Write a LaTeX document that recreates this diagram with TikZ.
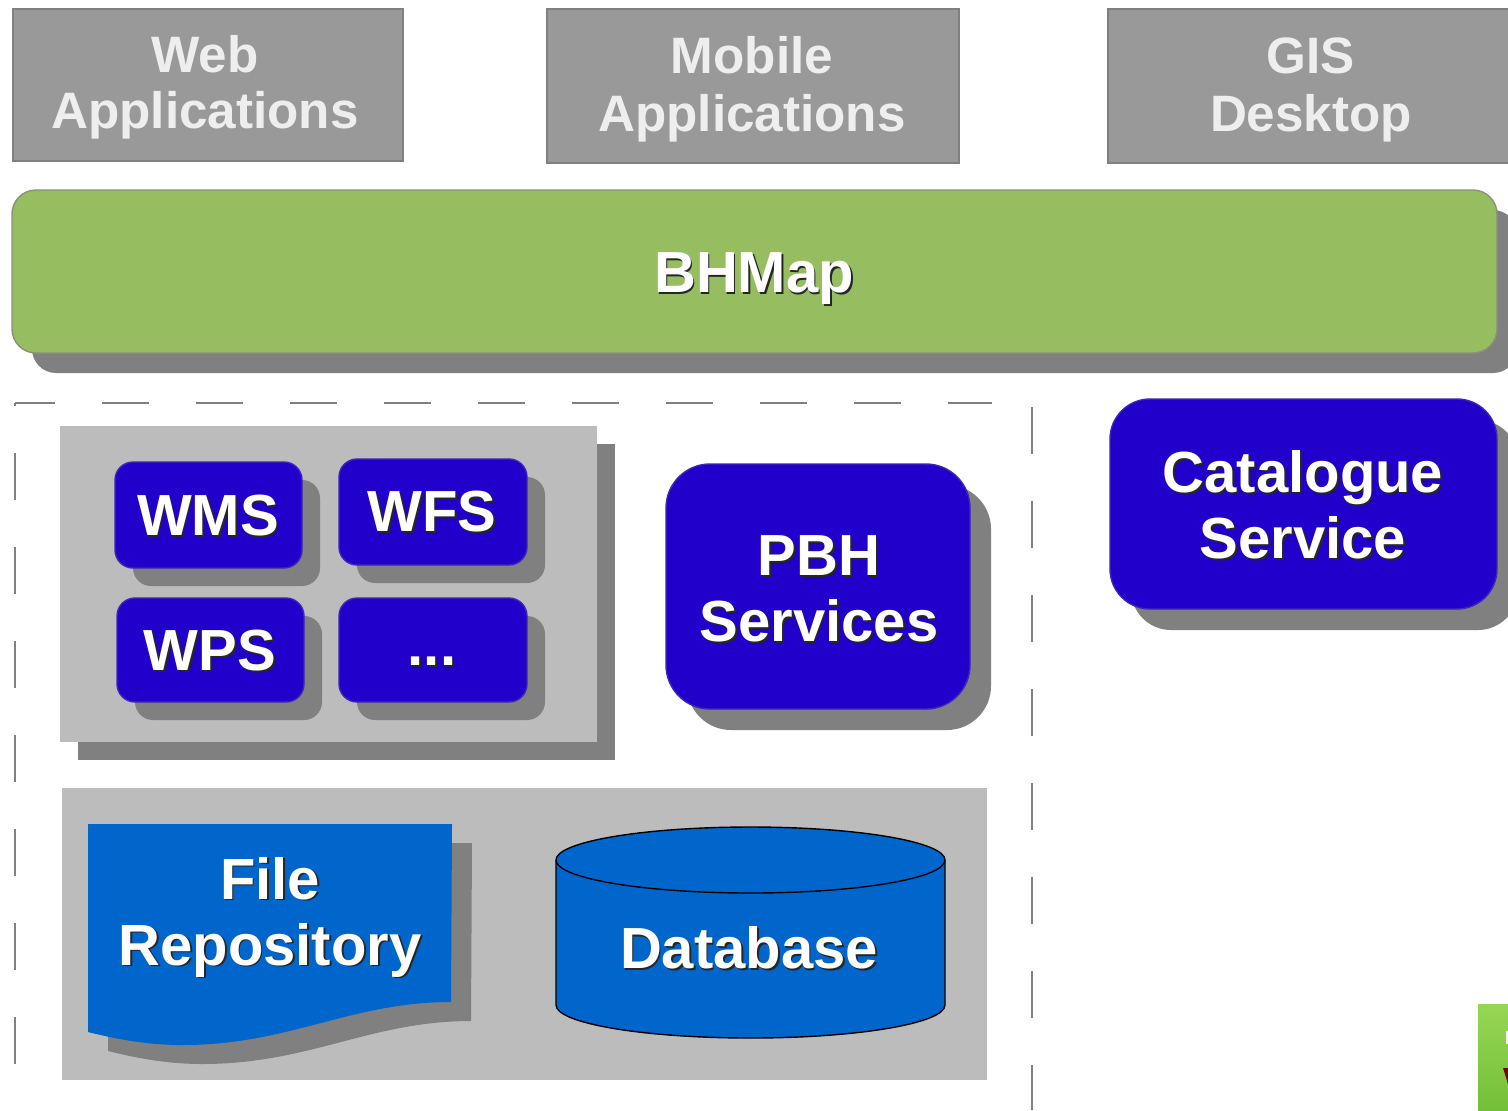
\documentclass[tikz,border=0pt]{standalone}
\usepackage{fontspec}
\setmainfont{Liberation Sans}
\definecolor{boxgray}{HTML}{999999}
\definecolor{edgegray}{HTML}{808080}
\definecolor{shadowgray}{HTML}{808080}
\definecolor{panelgray}{HTML}{BCBCBC}
\definecolor{barGreen}{HTML}{97BD61}
\definecolor{deepblue}{HTML}{2200CC}
\definecolor{midblue}{HTML}{0066CC}
\definecolor{lighttext}{HTML}{EEEEEE}
\definecolor{cornerlight}{HTML}{96D654}
\definecolor{cornerdark}{HTML}{74C038}
\tikzset{
  basebox/.style={shape=rectangle,inner sep=0pt,outer sep=0pt},
  topbox/.style={basebox,fill=boxgray,draw=edgegray,line width=1.3pt},
  greenbox/.style={basebox,fill=barGreen,draw=edgegray!70!barGreen,line width=0.7pt},
  bluebox/.style={basebox,fill=deepblue,draw=deepblue!70!gray,line width=0.7pt},
  panelbox/.style={basebox,fill=panelgray},
  shadowbox/.style={basebox,fill=shadowgray},
  toplabel/.style={text=lighttext,font=\bfseries\fontsize{25.6}{29}\selectfont,align=center,inner sep=0pt},
  mainlabel/.style={text=white,font=\bfseries\fontsize{29}{33}\selectfont,align=center,inner sep=0pt},
  labelshadow/.style={mainlabel,text=black!85,xshift=0.9pt,yshift=-0.9pt},
  dashline/.style={draw=edgegray,line width=1pt},
}
% name, style, x1, y1, x2, y2, radius (pt)
\newcommand\plainbox[7]{%
  \pgfmathsetmacro\cxv{(#3+#5)/2}\pgfmathsetmacro\cyv{(#4+#6)/2}%
  \pgfmathsetmacro\wv{(#5-#3)/2}\pgfmathsetmacro\hv{(#6-#4)/2}%
  \node[#2,rounded corners=#7pt,minimum width=\wv pt,minimum height=\hv pt] (#1) at (\cxv,\cyv) {};}
% as above, with a gray drop shadow offset by \shoff px
\newcommand\shoff{20}
\newcommand\shadowedbox[7]{%
  \pgfmathsetmacro\sxa{#3+\shoff}\pgfmathsetmacro\sya{#4+\shoff}\pgfmathsetmacro\sxb{#5+\shoff}\pgfmathsetmacro\syb{#6+\shoff}%
  \plainbox{#1s}{shadowbox}{\sxa}{\sya}{\sxb}{\syb}{#7}%
  \plainbox{#1}{#2}{#3}{#4}{#5}{#6}{#7}}
% name, x, y, text
\newcommand\shadowlabel[4]{%
  \node[labelshadow] (#1s) at (#2,#3) {#4};
  \node[mainlabel] (#1) at (#2,#3) {#4};}
\begin{document}
\begin{tikzpicture}[x=0.5pt,y=-0.5pt]
\useasboundingbox (0,0) rectangle (1508,1110);
\clip (0,0) rectangle (1508,1110);
\fill[white] (0,0) rectangle (1508,1110);

% top boxes
\plainbox{web}{topbox}{13}{9}{403}{161}{0}
\plainbox{mobile}{topbox}{547}{9}{959}{163}{0}
\plainbox{gis}{topbox}{1108}{9}{1530}{163}{0}
\node[toplabel,font=\bfseries\fontsize{25.6}{28}\selectfont] (webt) at (205,87.5) {Web\\Applications};
\node[toplabel] (mobilet) at (752,89.5) {Mobile\\Applications};
\node[toplabel] (gist) at (1311,89.5) {GIS\\Desktop};

% BHMap bar
\shadowedbox{bar}{greenbox}{12}{190}{1497}{353}{12}
\shadowlabel{bart}{754}{279}{BHMap}

% dashed frame
\coordinate (fa) at (15,403);
\coordinate (fb) at (992,403);
\coordinate (fc) at (15,1110);
\coordinate (fd) at (1032,407);
\coordinate (fe) at (1032,1110);
\draw[dashline,dash pattern=on 23.5pt off 23.5pt,dash phase=3.5pt] (fa) -- (fb);
\draw[dashline,dash pattern=on 23.5pt off 23.5pt,dash phase=22pt] (fa) -- (fc);
\draw[dashline,dash pattern=on 23.5pt off 23.5pt] (fd) -- (fe);

% services panel
\renewcommand\shoff{18}
\shadowedbox{svc}{panelbox}{60}{426}{597}{742}{0}
\shadowedbox{wms}{bluebox}{115}{462}{302}{568}{9}
\shadowlabel{wmst}{208}{516}{WMS}
\shadowedbox{wfs}{bluebox}{339}{459}{527}{565}{9}
\shadowlabel{wfst}{432}{512}{WFS}
\shadowedbox{wps}{bluebox}{117}{598}{304}{702}{9}
\shadowlabel{wpst}{210}{651}{WPS}
\shadowedbox{etc}{bluebox}{339}{598}{527}{702}{9}
\shadowlabel{etct}{432}{661}{...}

% PBH and catalogue
\renewcommand\shoff{21}
\shadowedbox{pbh}{bluebox}{666}{464}{970}{709}{22}
\shadowlabel{pbht}{819}{589}{PBH\\Services}
\shadowedbox{cat}{bluebox}{1110}{399}{1497}{609}{20}
\shadowlabel{catt}{1303}{505}{Catalogue\\Service}

% storage panel
\plainbox{store}{panelbox}{62}{788}{987}{1080}{0}
\fill[shadowgray,shift={(20,19)}] (88,824) -- (452,824) -- (451,1002)
  .. controls (350,1002) and (290,1045) .. (182,1045)
  .. controls (150,1045) and (120,1040) .. (88,1032) -- cycle;
\fill[midblue] (88,824) -- (452,824) -- (451,1002)
  .. controls (350,1002) and (290,1045) .. (182,1045)
  .. controls (150,1045) and (120,1040) .. (88,1032) -- cycle;
\shadowlabel{filet}{270}{917}{File\\Repository}

% database cylinder
\filldraw[fill=midblue,draw=black,line width=0.7pt]
  (556,860) -- (556,1005) arc[start angle=180,end angle=0,x radius=194.5,y radius=33]
  -- (945,860) arc[start angle=360,end angle=180,x radius=194.5,y radius=33] -- cycle;
\draw[black,line width=0.7pt] (556,860) arc[start angle=180,end angle=0,x radius=194.5,y radius=33];
\shadowlabel{dbt}{749}{948}{Database}

% cropped green image at the corner
\shade[top color=cornerlight,bottom color=cornerdark] (1478,1004) rectangle (1508,1110);
\fill[white] (1506,1031) rectangle (1508,1044);
\fill[red!50!black] (1503,1068) -- (1508,1068) -- (1508,1084) -- cycle;
\end{tikzpicture}
\end{document}
